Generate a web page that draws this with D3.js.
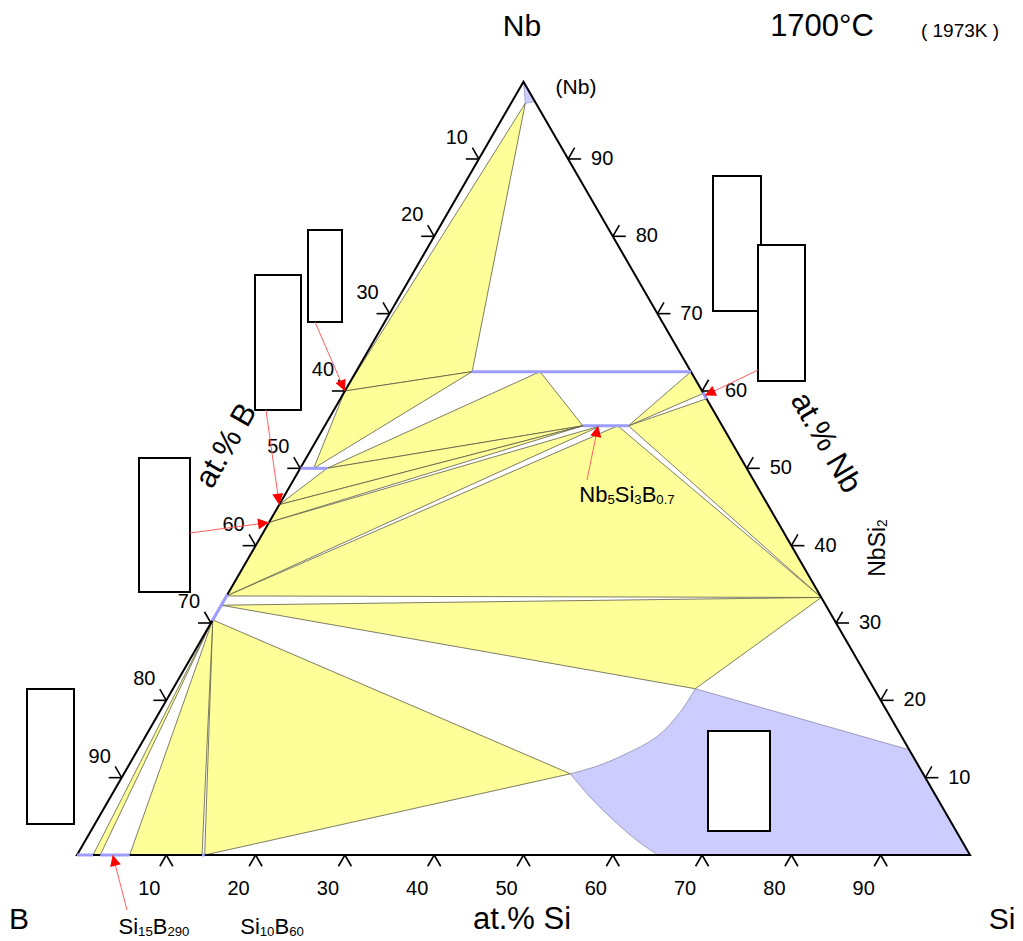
<!DOCTYPE html>
<html>
<head>
<meta charset="utf-8">
<script src="https://cdn.jsdelivr.net/npm/d3@7"></script>
<style>
  body { margin: 0; background: #fff; }
  svg { display: block; }
  text { font-family: "Liberation Sans", Arial, Helvetica, sans-serif; fill: #000; }
</style>
</head>
<body>
<svg id="chart" width="1023" height="941"></svg>
<script>
// Nb-Si-B isothermal section at 1700 °C.
// Every composition is [at.% Si, at.% Nb]; at.% B is the remainder.

const tickValues = [10, 20, 30, 40, 50, 60, 70, 80, 90];

// (Nb) solid solution at the Nb corner
const nbSolidSolution = [[0, 100], [2.6, 97.4], [1.6, 97.2]];

// Liquid field on the Si-rich side
const liquidEdge = [[58.5, 21.5], [86.4, 13.6], [100, 0], [65.1, 0]];
const liquidLowerCurve = [[65.1, 0], [62.3, 1.55], [58.4, 4.1], [53.7, 7.5], [50.0, 10.5]];
const liquidUpperCurve = [[50.0, 10.5], [52.5, 11.5], [54.7, 12.9], [57.3, 15.3], [58.3, 18.4], [58.5, 21.5]];

// Three-phase triangles
const threePhaseFields = [
  [[1.6, 97.2], [0, 60], [13.0, 62.5]],        // (Nb) + Nb3B2 + Nb5Si3
  [[0, 60], [13.0, 62.5], [1.5, 50]],          // Nb3B2 + Nb5Si3 + NbB
  [[3.0, 50], [20.6, 62.5], [28.9, 55.5]],     // NbB + Nb5Si3 + T2
  [[3.0, 50], [28.9, 55.5], [0, 45.3]],        // NbB + T2 + Nb5B6
  [[0, 45.3], [28.9, 55.5], [0, 43.0]],        // Nb5B6 + T2 + Nb3B4
  [[0, 43.0], [30.9, 55.5], [0, 33.5]],        // Nb3B4 + T2 + NbB2
  [[0, 33.5], [32.8, 55.5], [66.7, 33.3]],     // NbB2 + T2 + NbSi2
  [[34.0, 55.5], [66.7, 33.3], [41.0, 59.0]],  // T2 + NbSi2 + beta
  [[37.5, 62.5], [34.0, 55.5], [40.3, 59.7]],  // Nb5Si3 + T2 + beta
  [[0, 32.3], [66.7, 33.3], [58.5, 21.5]],     // NbB2 + NbSi2 + L
  [[0, 30.4], [14.3, 0], [50.0, 10.5]],        // NbB2 + SiB6 + L
  [[0, 30.4], [5.9, 0], [14.0, 0]],            // NbB2 + SiBn + SiB6
  [[0, 30.4], [1.8, 0], [2.6, 0]]              // NbB2 + (B) + SiBn
];

// Single-phase homogeneity ranges drawn as lines
const phaseRanges = [
  [[13.0, 62.5], [37.5, 62.5]],   // Nb5Si3
  [[28.9, 55.5], [34.0, 55.5]],   // Nb5Si3B0.7
  [[0, 50], [3.0, 50]],           // NbB
  [[0, 33.7], [0, 30.3]],         // NbB2
  [[40.2, 59.8], [41.0, 59.0]],   // beta
  [[0, 0], [1.8, 0]],             // (B)
  [[2.6, 0], [5.9, 0]],           // SiBn
  [[14.0, 0], [14.3, 0]]          // SiB6
];

// Pointer targets (compositions)
const pointerTargets = [[0, 60], [0, 45.3], [0, 43.0], [40.6, 59.4], [30.6, 55.5], [4.0, 0]];

const svg = d3.select("#chart");

// ternary frame
const X0 = 77, Y0 = 855, SIDE = 893, H = SIDE * Math.sqrt(3) / 2;
const xs = d3.scaleLinear().domain([0, 100]).range([X0, X0 + SIDE]);
const ys = d3.scaleLinear().domain([0, 100]).range([Y0, Y0 - H]);
const pt = d => [xs(d[0] + d[1] / 2), ys(d[1])];
const lin = d3.line().x(d => pt(d)[0]).y(d => pt(d)[1]);
const smooth = d3.line().x(d => pt(d)[0]).y(d => pt(d)[1]).curve(d3.curveCatmullRom.alpha(0.5));

const YELLOW = "#ffff99", LIQ = "#ccccff", PHASE = "#9d9dff", EDGE = "#5c5c48";

// liquid
const liquidPath = lin(liquidEdge) +
  smooth(liquidLowerCurve).replace(/^M/, "L") +
  smooth(liquidUpperCurve).replace(/^M/, "L") + "Z";
svg.append("path").attr("d", liquidPath)
  .attr("fill", LIQ).attr("stroke", "#8a8ab0").attr("stroke-width", 0.8);

// (Nb)
svg.append("path").attr("d", lin(nbSolidSolution) + "Z")
  .attr("fill", LIQ).attr("stroke", "#8a8ab0").attr("stroke-width", 0.6);

// three-phase triangles
svg.append("g").selectAll("path").data(threePhaseFields).join("path")
  .attr("d", d => lin(d) + "Z")
  .attr("fill", YELLOW).attr("stroke", EDGE).attr("stroke-width", 0.8)
  .attr("stroke-linejoin", "round");

// triangle outline
const corners = [[0, 0], [100, 0], [0, 100]];
svg.append("path").attr("d", lin(corners) + "Z")
  .attr("fill", "none").attr("stroke", "#000").attr("stroke-width", 2)
  .attr("stroke-linejoin", "miter");

// homogeneity ranges
svg.append("g").selectAll("path").data(phaseRanges).join("path")
  .attr("d", d => lin(d))
  .attr("fill", "none").attr("stroke", PHASE).attr("stroke-width", 3)
  .attr("stroke-linecap", "butt");

// ticks: each is two short strokes pointing out of the frame
const TL = 13, c60 = 0.5, s60 = Math.sqrt(3) / 2;
const axes = [
  { pos: v => [v, 0], dirs: [[-c60, s60], [c60, s60]], off: [-17, 33] },        // at.% Si
  { pos: v => [0, 100 - v], dirs: [[-1, 0], [-c60, -s60]], off: [-22, -22] },   // at.% B
  { pos: v => [100 - v, v], dirs: [[1, 0], [c60, -s60]], off: [34, -1] }        // at.% Nb
];
const tg = svg.append("g");
axes.forEach(ax => {
  tickValues.forEach(v => {
    const p = pt(ax.pos(v));
    ax.dirs.forEach(dv => {
      tg.append("line")
        .attr("x1", p[0]).attr("y1", p[1])
        .attr("x2", p[0] + dv[0] * TL).attr("y2", p[1] + dv[1] * TL)
        .attr("stroke", "#000").attr("stroke-width", 1.6);
    });
    tg.append("text")
      .attr("x", p[0] + ax.off[0]).attr("y", p[1] + ax.off[1])
      .attr("text-anchor", "middle").attr("dominant-baseline", "central")
      .attr("font-size", 20).text(v);
  });
});

// blank label boxes
const boxes = [
  [308, 230, 34, 92], [255, 275, 46, 135], [139, 458, 51, 134], [27, 689, 47, 135],
  [713, 176, 48, 135], [758, 245, 47, 136], [708, 731, 62, 100]
];
svg.append("g").selectAll("rect").data(boxes).join("rect")
  .attr("x", d => d[0]).attr("y", d => d[1]).attr("width", d => d[2]).attr("height", d => d[3])
  .attr("fill", "#fff").attr("stroke", "#000").attr("stroke-width", 2);

// pointers
svg.append("defs").append("marker")
  .attr("id", "head").attr("viewBox", "0 0 10 10").attr("refX", 10).attr("refY", 5)
  .attr("markerUnits", "userSpaceOnUse").attr("markerWidth", 13).attr("markerHeight", 11)
  .attr("orient", "auto")
  .append("path").attr("d", "M0,0L10,5L0,10Z").attr("fill", "#ff0000");
const pointerTails = [[315, 322], [266, 410], [190, 533], [758, 370], [587, 480], [127, 910]];
svg.append("g").selectAll("line").data(pointerTargets).join("line")
  .attr("x1", (d, i) => pointerTails[i][0]).attr("y1", (d, i) => pointerTails[i][1])
  .attr("x2", d => pt(d)[0]).attr("y2", d => pt(d)[1])
  .attr("stroke", "#ff6060").attr("stroke-width", 1)
  .attr("marker-end", "url(#head)");

// text
function label(x, y, size, parts, rotate) {
  const t = svg.append("text")
    .attr("transform", `translate(${x},${y})` + (rotate ? ` rotate(${rotate})` : ""))
    .attr("text-anchor", "middle").attr("dominant-baseline", "central")
    .attr("font-size", size);
  let shifted = false;
  parts.forEach(([s, sub]) => {
    const ts = t.append("tspan").text(s);
    if (sub && !shifted) { ts.attr("dy", size * 0.22).attr("font-size", size * 0.6); shifted = true; }
    else if (sub) { ts.attr("font-size", size * 0.6); }
    else if (shifted) { ts.attr("dy", -size * 0.22); shifted = false; }
  });
  return t;
}
label(522, 25, 30, [["Nb"]]);
label(822, 25, 31, [["1700°C"]]);
label(960, 30, 19, [["( 1973K )"]]);
label(576, 86, 21, [["(Nb)"]]);
label(19, 918, 30, [["B"]]);
label(1002, 918, 30, [["Si"]]);
label(522, 918, 31, [["at.% Si"]]);
label(225, 445, 31, [["at.% B"]], -60);
label(827, 442, 31, [["at.% Nb"]], 60);
label(877, 548, 23, [["NbSi"], ["2", true]], -90);
label(627, 494, 22, [["Nb"], ["5", true], ["Si"], ["3", true], ["B"], ["0.7", true]]);
label(154, 926, 22, [["Si"], ["15", true], ["B"], ["290", true]]);
label(272, 926, 22, [["Si"], ["10", true], ["B"], ["60", true]]);
</script>
</body>
</html>
